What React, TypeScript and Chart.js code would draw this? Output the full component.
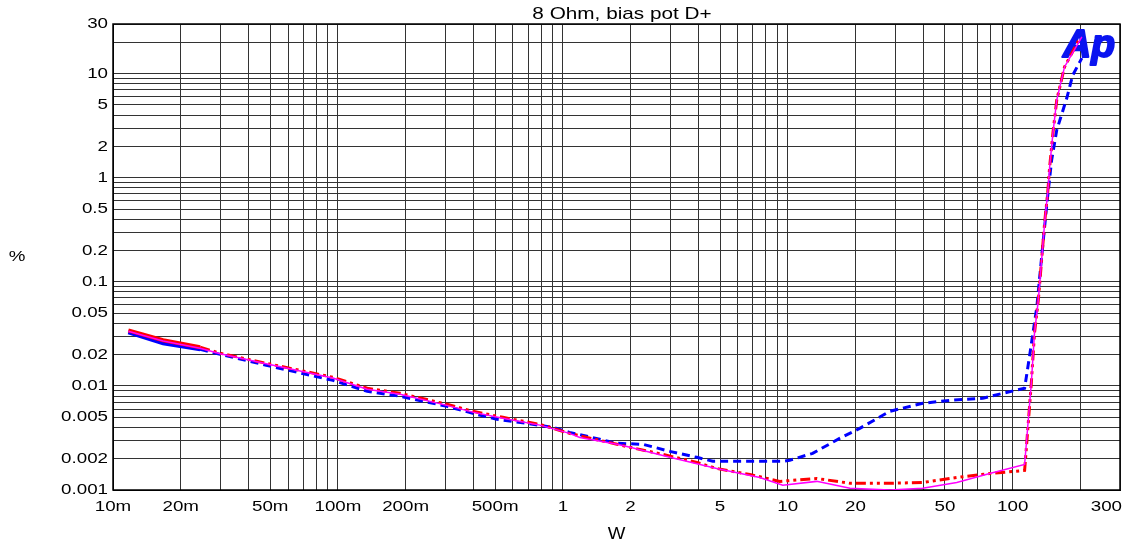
import React, { useEffect, useRef } from 'react';
import { Chart, registerables } from 'chart.js';

Chart.register(...registerables);

const TITLE = '8 Ohm, bias pot D+';
const X_TITLE = 'W';
const Y_TITLE = '%';
const LOGO = 'Ap';

const xLabelValues = [0.01, 0.02, 0.05, 0.1, 0.2, 0.5, 1, 2, 5, 10, 20, 50, 100, 300];
const xLabelTexts = ['10m', '20m', '50m', '100m', '200m', '500m', '1', '2', '5', '10', '20', '50', '100', '300'];
const yLabelValues = [0.001, 0.002, 0.005, 0.01, 0.02, 0.05, 0.1, 0.2, 0.5, 1, 2, 5, 10, 30];
const yLabelTexts = ['0.001', '0.002', '0.005', '0.01', '0.02', '0.05', '0.1', '0.2', '0.5', '1', '2', '5', '10', '30'];

// Blue dashed trace (thick solid at the start)
const blueW = [0.0117, 0.0167, 0.0244, 0.030, 0.048, 0.095, 0.135, 0.189, 0.305, 0.398, 0.509, 0.692, 0.903, 1.07, 1.46, 1.74, 2.27, 2.99, 3.94, 4.64, 9.5, 10.2, 12.9, 17.0, 20.9, 28.4, 39.8, 52.5, 73.6, 90.3, 113, 119, 128, 135, 142, 149, 157, 174, 185, 203];
const bluePct = [0.0328, 0.0257, 0.0225, 0.0201, 0.0158, 0.0113, 0.00888, 0.00795, 0.00637, 0.00545, 0.00478, 0.00437, 0.004, 0.00358, 0.00307, 0.00281, 0.00275, 0.00235, 0.00206, 0.00189, 0.00189, 0.00193, 0.00225, 0.00313, 0.00391, 0.0057, 0.0068, 0.00727, 0.0076, 0.00849, 0.00949, 0.0197, 0.057, 0.188, 0.57, 1.48, 2.87, 5.83, 9.7, 14.1];

// Red dash-dot-dot trace (thick solid at the start)
const redW = [0.0117, 0.0167, 0.0244, 0.030, 0.048, 0.095, 0.135, 0.189, 0.305, 0.398, 0.541, 0.79, 1.07, 1.74, 1.99, 2.78, 3.94, 4.83, 6.78, 9.21, 13.45, 18.9, 28.4, 39.8, 56.4, 79.0, 113, 121, 125, 130, 139, 143, 146, 151, 157, 170, 199];
const redPct = [0.0342, 0.0275, 0.0235, 0.0206, 0.0165, 0.0121, 0.00949, 0.00849, 0.00666, 0.0057, 0.00499, 0.00427, 0.0035, 0.00275, 0.00257, 0.0022, 0.00184, 0.00161, 0.00141, 0.00121, 0.00129, 0.00116, 0.00116, 0.00118, 0.00132, 0.00144, 0.00154, 0.0106, 0.0321, 0.0666, 0.391, 0.7, 1.27, 2.69, 5.58, 11.6, 22.0];

// Magenta thin solid trace
const magW = [0.0117, 0.0167, 0.0244, 0.030, 0.048, 0.095, 0.135, 0.189, 0.305, 0.398, 0.541, 0.79, 1.07, 1.19, 1.74, 1.99, 2.99, 4.83, 7.51, 9.5, 13.45, 18.9, 28.4, 39.8, 56.4, 79.0, 113, 121, 125, 130, 139, 143, 146, 151, 157, 170, 203];
const magPct = [0.0335, 0.027, 0.023, 0.0204, 0.0163, 0.0119, 0.0093, 0.0083, 0.0065, 0.0056, 0.0049, 0.0042, 0.0035, 0.0032, 0.00275, 0.00257, 0.00206, 0.00161, 0.00132, 0.00111, 0.00121, 0.00104, 0.001, 0.00104, 0.00118, 0.00144, 0.00176, 0.0106, 0.032, 0.0666, 0.391, 0.7, 1.27, 2.69, 5.58, 11.6, 22.6];

const X_MIN = 0.01, X_MAX = 300, Y_MIN = 0.001, Y_MAX = 30;
const FONT = '"Liberation Sans", Arial, sans-serif';
const SX = 1.25;

function logGrid(min: number, max: number) {
  const out: number[] = [];
  for (let e = Math.floor(Math.log10(min)); e <= Math.ceil(Math.log10(max)); e++) {
    for (let m = 1; m <= 9; m++) {
      const v = Number((m * Math.pow(10, e)).toPrecision(6));
      if (v >= min * 0.9999 && v <= max * 1.0001) out.push(v);
    }
  }
  return out;
}

function pts(xs: number[], ys: number[]) {
  return xs.map((x, i) => ({ x, y: ys[i] }));
}

function sText(ctx: CanvasRenderingContext2D, text: string, x: number, y: number, align: CanvasTextAlign, sx: number) {
  ctx.save();
  ctx.translate(x, y);
  ctx.scale(sx, 1);
  ctx.textAlign = align;
  ctx.textBaseline = 'middle';
  ctx.fillText(text, 0, 0);
  ctx.restore();
}

const decorPlugin = {
  id: 'decor',
  beforeDatasetsDraw(chart: any) {
    const { ctx, chartArea } = chart;
    ctx.save();
    ctx.strokeStyle = '#000';
    ctx.lineWidth = 1.5;
    ctx.strokeRect(chartArea.left, chartArea.top, chartArea.right - chartArea.left, chartArea.bottom - chartArea.top);
    ctx.fillStyle = '#0a14f0';
    ctx.strokeStyle = '#0a14f0';
    ctx.lineWidth = 2;
    ctx.lineJoin = 'round';
    ctx.font = `italic bold 39px ${FONT}`;
    ctx.textAlign = 'left';
    ctx.textBaseline = 'alphabetic';
    ctx.fillText(LOGO, 1063, 57);
    ctx.strokeText(LOGO, 1063, 57);
    ctx.restore();
  },
  afterDraw(chart: any) {
    const { ctx, chartArea } = chart;
    const xs = chart.scales.x;
    const ys = chart.scales.y;
    ctx.save();
    ctx.fillStyle = '#000';
    ctx.font = `15px ${FONT}`;
    yLabelValues.forEach((v, i) => {
      sText(ctx, yLabelTexts[i], chartArea.left - 5, ys.getPixelForValue(v), 'right', SX);
    });
    xLabelValues.forEach((v, i) => {
      const w = ctx.measureText(xLabelTexts[i]).width * SX;
      let cx = xs.getPixelForValue(v);
      if (cx + w / 2 > 1122) cx = 1122 - w / 2;
      sText(ctx, xLabelTexts[i], cx, 507, 'center', SX);
    });
    sText(ctx, Y_TITLE, 17, (chartArea.top + chartArea.bottom) / 2, 'center', SX);
    ctx.font = `17px ${FONT}`;
    sText(ctx, X_TITLE, (chartArea.left + chartArea.right) / 2, 534, 'center', 1.1);
    sText(ctx, TITLE, 622, 14, 'center', 1.22);
    ctx.restore();
  },
};

export default function App() {
  const ref = useRef<HTMLCanvasElement | null>(null);
  useEffect(() => {
    if (!ref.current) return;
    const chart = new Chart(ref.current, {
      type: 'line',
      data: {
        datasets: [
          {
            label: 'magenta',
            data: pts(magW, magPct),
            borderColor: '#ff00ff',
            borderWidth: 1.5,
            pointRadius: 0,
            tension: 0,
            order: 0,
          },
          {
            label: 'red',
            data: pts(redW, redPct),
            borderColor: '#ff0000',
            borderWidth: 3,
            borderDash: [10, 4, 3, 4, 3, 4],
            pointRadius: 0,
            tension: 0,
            order: 1,
            segment: {
              borderDash: (c: any) => (c.p0DataIndex < 2 ? [] : [10, 4, 3, 4, 3, 4]),
              borderWidth: (c: any) => (c.p0DataIndex < 2 ? 4 : 3),
            },
          },
          {
            label: 'blue',
            data: pts(blueW, bluePct),
            borderColor: '#0000ff',
            borderWidth: 3,
            borderDash: [8, 5],
            pointRadius: 0,
            tension: 0,
            order: 2,
            segment: {
              borderDash: (c: any) => (c.p0DataIndex < 2 ? [] : [8, 5]),
              borderWidth: (c: any) => (c.p0DataIndex < 2 ? 4 : 3),
            },
          },
        ],
      },
      options: {
        responsive: false,
        animation: false,
        parsing: true,
        layout: { padding: { left: 113, right: 3, top: 24, bottom: 53 } },
        plugins: { legend: { display: false }, tooltip: { enabled: false }, title: { display: false } },
        scales: {
          x: {
            type: 'logarithmic',
            min: X_MIN,
            max: X_MAX,
            afterBuildTicks: (s: any) => { s.ticks = logGrid(X_MIN, X_MAX).map((v) => ({ value: v })); },
            afterFit: (s: any) => { s.height = 0; },
            ticks: { display: false, autoSkip: false },
            grid: { color: '#333333', lineWidth: 1, drawTicks: false },
            border: { display: true, color: '#000', width: 1 },
          },
          y: {
            type: 'logarithmic',
            min: Y_MIN,
            max: Y_MAX,
            afterBuildTicks: (s: any) => { s.ticks = logGrid(Y_MIN, Y_MAX).map((v) => ({ value: v })); },
            afterFit: (s: any) => { s.width = 0; },
            ticks: { display: false, autoSkip: false },
            grid: { color: '#333333', lineWidth: 1, drawTicks: false },
            border: { display: true, color: '#000', width: 1 },
          },
        },
      },
      plugins: [decorPlugin],
    } as any);
    return () => chart.destroy();
  }, []);
  return (
    <div style={{ position: 'absolute', left: 0, top: 0, width: 1123, height: 543, background: '#fff' }}>
      <canvas ref={ref} width={1123} height={543} style={{ display: 'block' }} />
    </div>
  );
}
